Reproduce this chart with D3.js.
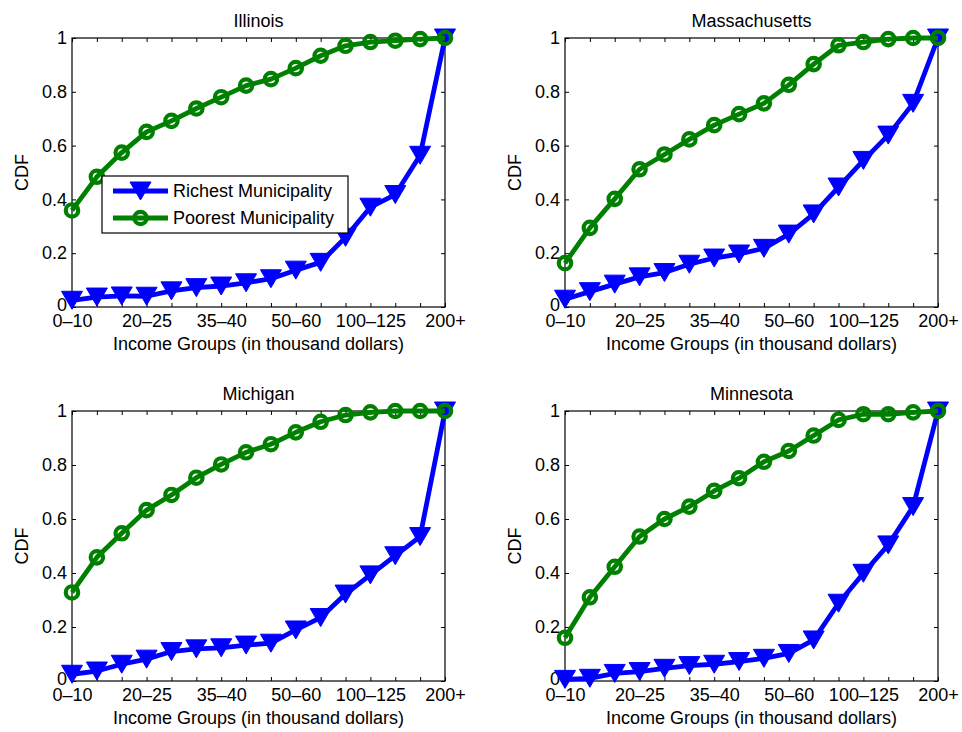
<!DOCTYPE html>
<html>
<head>
<meta charset="utf-8">
<script src="https://cdn.jsdelivr.net/npm/d3@7"></script>
<style>
  body { margin: 0; background: #fff; }
  text { font-family: "Liberation Sans", Arial, Helvetica, sans-serif; fill: #000; }
</style>
</head>
<body>
<svg id="chart" width="962" height="732"></svg>
<script>
const categories = ["0–10","10–15","15–20","20–25","25–30","30–35","35–40","40–45","45–50","50–60","60–75","75–100","100–125","125–150","150–200","200+"];
const xTickLabels = ["0–10","20–25","35–40","50–60","100–125","200+"];
const yTicks = [0, 0.2, 0.4, 0.6, 0.8, 1];
const yTickLabels = ["0", "0.2", "0.4", "0.6", "0.8", "1"];
const states = ["Illinois", "Massachusetts", "Michigan", "Minnesota"];
const seriesNames = ["Richest Municipality", "Poorest Municipality"];

const illinoisRichest = [0.025,0.037,0.041,0.040,0.060,0.072,0.078,0.090,0.105,0.137,0.166,0.259,0.371,0.418,0.564,1.0];
const illinoisPoorest = [0.359,0.484,0.574,0.651,0.692,0.738,0.780,0.823,0.847,0.888,0.934,0.971,0.985,0.990,0.996,1.0];
const massachusettsRichest = [0.029,0.057,0.085,0.112,0.128,0.159,0.182,0.197,0.218,0.271,0.346,0.446,0.545,0.639,0.757,1.0];
const massachusettsPoorest = [0.163,0.294,0.402,0.512,0.567,0.623,0.676,0.717,0.757,0.826,0.903,0.973,0.985,0.996,1.0,1.0];
const michiganRichest = [0.025,0.037,0.062,0.081,0.109,0.119,0.123,0.133,0.140,0.189,0.235,0.322,0.393,0.464,0.535,1.0];
const michiganPoorest = [0.328,0.458,0.547,0.633,0.689,0.753,0.802,0.847,0.877,0.921,0.960,0.985,0.995,1.0,1.0,1.0];
const minnesotaRichest = [0.006,0.010,0.028,0.035,0.047,0.057,0.062,0.072,0.084,0.102,0.152,0.288,0.399,0.504,0.646,1.0];
const minnesotaPoorest = [0.160,0.310,0.423,0.535,0.600,0.646,0.704,0.751,0.812,0.852,0.909,0.967,0.988,0.988,0.995,1.0];

const panelData = [
  [illinoisRichest, illinoisPoorest],
  [massachusettsRichest, massachusettsPoorest],
  [michiganRichest, michiganPoorest],
  [minnesotaRichest, minnesotaPoorest]
];

const BLUE = "#0000ff", GREEN = "#008000";
const panels = [
  {x0: 72, x1: 445, y0: 38, y1: 307},
  {x0: 565, x1: 938, y0: 38, y1: 307},
  {x0: 72, x1: 445, y0: 411, y1: 681},
  {x0: 565, x1: 938, y0: 411, y1: 681}
];

const svg = d3.select("#chart");
const FS = 18;

function drawTri(g, x, y) {
  const w = 10.5, h = 9;
  g.append("path")
    .attr("d", `M${x - w},${y - h}L${x + w},${y - h}L${x},${y + h}Z`)
    .attr("fill", BLUE).attr("stroke", BLUE).attr("stroke-width", 1);
}
function drawCirc(g, x, y) {
  g.append("circle").attr("cx", x).attr("cy", y).attr("r", 6.2)
    .attr("fill", "none").attr("stroke", GREEN).attr("stroke-width", 4.2);
}

panels.forEach((p, i) => {
  const g = svg.append("g");
  const x = d3.scalePoint().domain(categories).range([p.x0, p.x1]).padding(0);
  const y = d3.scaleLinear().domain([0, 1]).range([p.y1, p.y0]);

  g.append("rect").attr("x", p.x0).attr("y", p.y0)
    .attr("width", p.x1 - p.x0).attr("height", p.y1 - p.y0)
    .attr("fill", "none").attr("stroke", "#000").attr("stroke-width", 1.2);

  const xAxisB = d3.axisBottom(x).tickSizeInner(-4).tickSizeOuter(0)
    .tickFormat(d => xTickLabels.includes(d) ? d : "").tickPadding(7);
  const gx = g.append("g").attr("transform", `translate(0,${p.y1})`).call(xAxisB);
  gx.select(".domain").remove();
  gx.selectAll("line").attr("stroke", "#000");
  gx.selectAll("text").attr("font-size", FS).attr("font-family", "Liberation Sans, Arial, sans-serif").attr("fill", "#000");
  const xAxisT = d3.axisTop(x).tickSizeInner(-4).tickSizeOuter(0).tickFormat("");
  const gxt = g.append("g").attr("transform", `translate(0,${p.y0})`).call(xAxisT);
  gxt.select(".domain").remove();
  gxt.selectAll("line").attr("stroke", "#000");

  const yAxisL = d3.axisLeft(y).tickValues(yTicks).tickSizeInner(-4).tickSizeOuter(0)
    .tickFormat((d, k) => yTickLabels[k]).tickPadding(5);
  const gy = g.append("g").attr("transform", `translate(${p.x0},0)`).call(yAxisL);
  gy.select(".domain").remove();
  gy.selectAll("line").attr("stroke", "#000");
  gy.selectAll("text").attr("font-size", FS).attr("font-family", "Liberation Sans, Arial, sans-serif").attr("fill", "#000");
  gy.selectAll("text").filter((d) => d === 0).attr("dy", "0.2em");
  const yAxisR = d3.axisRight(y).tickValues(yTicks).tickSizeInner(-4).tickSizeOuter(0).tickFormat("");
  const gyr = g.append("g").attr("transform", `translate(${p.x1},0)`).call(yAxisR);
  gyr.select(".domain").remove();
  gyr.selectAll("line").attr("stroke", "#000");

  g.append("text").attr("x", (p.x0 + p.x1) / 2).attr("y", p.y0 - 11.5)
    .attr("text-anchor", "middle").attr("font-size", FS).text(states[i]);
  g.append("text").attr("x", (p.x0 + p.x1) / 2).attr("y", p.y1 + 43)
    .attr("text-anchor", "middle").attr("font-size", FS).text("Income Groups (in thousand dollars)");
  g.append("text").attr("transform", `translate(${p.x0 - 44},${(p.y0 + p.y1) / 2}) rotate(-90)`)
    .attr("text-anchor", "middle").attr("font-size", FS).text("CDF");

  const [rich, poor] = panelData[i];
  const line = d3.line().x((d, k) => x(categories[k])).y(d => y(d));

  g.append("path").datum(rich).attr("d", line).attr("fill", "none")
    .attr("stroke", BLUE).attr("stroke-width", 4.8).attr("stroke-linejoin", "round");
  rich.forEach((v, k) => drawTri(g, x(categories[k]), y(v)));

  g.append("path").datum(poor).attr("d", line).attr("fill", "none")
    .attr("stroke", GREEN).attr("stroke-width", 4.8).attr("stroke-linejoin", "round");
  poor.forEach((v, k) => drawCirc(g, x(categories[k]), y(v)));

  if (i === 0) {
    const lg = svg.append("g");
    lg.append("rect").attr("x", 102).attr("y", 176).attr("width", 246).attr("height", 57)
      .attr("fill", "#fff").attr("stroke", "#000").attr("stroke-width", 1.2);
    const rows = [191, 218];
    lg.append("line").attr("x1", 113).attr("x2", 168).attr("y1", rows[0]).attr("y2", rows[0])
      .attr("stroke", BLUE).attr("stroke-width", 4.8);
    drawTri(lg, 140.5, rows[0]);
    lg.append("line").attr("x1", 113).attr("x2", 168).attr("y1", rows[1]).attr("y2", rows[1])
      .attr("stroke", GREEN).attr("stroke-width", 4.8);
    drawCirc(lg, 140.5, rows[1]);
    seriesNames.forEach((s, k) => {
      lg.append("text").attr("x", 173).attr("y", rows[k]).attr("dy", "0.35em")
        .attr("font-size", FS).text(s);
    });
  }
});
</script>
</body>
</html>
